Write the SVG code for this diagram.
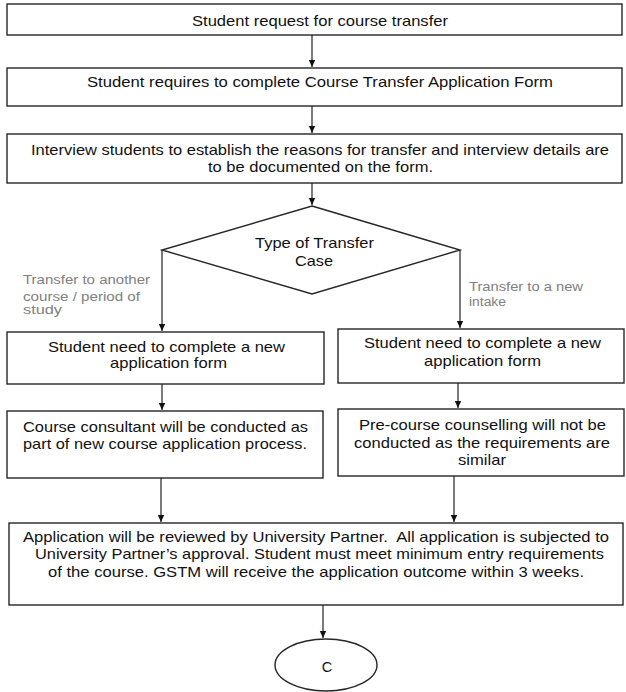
<svg xmlns="http://www.w3.org/2000/svg" width="626" height="692" viewBox="0 0 626 692">
<defs>
<marker id="ah" markerUnits="userSpaceOnUse" markerWidth="8" markerHeight="8" refX="7" refY="4" orient="auto">
<path d="M0,0.8 L7,4 L0,7.2 z" fill="#111"/>
</marker>
<style>
.box{fill:#fff;stroke:#262626;stroke-width:1.4}
.t{font-family:"Liberation Sans",Arial,sans-serif;font-size:14.5px;fill:#111;text-anchor:middle}
.lbl{font-family:"Liberation Sans",Arial,sans-serif;font-size:12px;fill:#808080}
.c{stroke:#333;stroke-width:1.3;fill:none;marker-end:url(#ah)}
</style>
</defs>
<rect width="626" height="692" fill="#fff"/>
<g id="connectors">
<line class="c" x1="312" y1="35" x2="312" y2="67"/>
<line class="c" x1="312" y1="106" x2="312" y2="133"/>
<line class="c" x1="312" y1="183" x2="312" y2="205"/>
<line class="c" x1="162" y1="250" x2="162" y2="331"/>
<line class="c" x1="460" y1="250" x2="460" y2="328"/>
<line class="c" x1="162" y1="384" x2="162" y2="410"/>
<line class="c" x1="458" y1="383" x2="458" y2="408"/>
<line class="c" x1="161" y1="478" x2="161" y2="522"/>
<line class="c" x1="454" y1="476" x2="454" y2="522"/>
<line class="c" x1="323" y1="605" x2="323" y2="638"/>
<text class="lbl" x="23" y="284" textLength="127" lengthAdjust="spacingAndGlyphs">Transfer to another</text>
<text class="lbl" x="23" y="301" textLength="117" lengthAdjust="spacingAndGlyphs">course / period of</text>
<text class="lbl" x="23" y="314" textLength="39" lengthAdjust="spacingAndGlyphs">study</text>
<text class="lbl" x="469" y="291" textLength="114" lengthAdjust="spacingAndGlyphs">Transfer to a new</text>
<text class="lbl" x="469" y="306" textLength="37" lengthAdjust="spacingAndGlyphs">intake</text>
</g>
<g id="n1">
<rect class="box" x="7" y="4" width="615" height="31"/>
<text class="t" x="320" y="26" textLength="256" lengthAdjust="spacingAndGlyphs">Student request for course transfer</text>
</g>
<g id="n2">
<rect class="box" x="7" y="68" width="615" height="38"/>
<text class="t" x="320" y="87" textLength="466" lengthAdjust="spacingAndGlyphs">Student requires to complete Course Transfer Application Form</text>
</g>
<g id="n3">
<rect class="box" x="7" y="134" width="615" height="49"/>
<text class="t" x="320" y="155" textLength="578" lengthAdjust="spacingAndGlyphs">Interview students to establish the reasons for transfer and interview details are</text>
<text class="t" x="320.5" y="172" textLength="225" lengthAdjust="spacingAndGlyphs">to be documented on the form.</text>
</g>
<g id="decision">
<polygon class="box" points="312,206 460,250 312,294 162,250"/>
<text class="t" x="314.5" y="248" textLength="119" lengthAdjust="spacingAndGlyphs">Type of Transfer</text>
<text class="t" x="314" y="266" textLength="38" lengthAdjust="spacingAndGlyphs">Case</text>
</g>
<g id="left1">
<rect class="box" x="7" y="332" width="317" height="52"/>
<text class="t" x="166.5" y="352" textLength="237" lengthAdjust="spacingAndGlyphs">Student need to complete a new</text>
<text class="t" x="168.5" y="368" textLength="117" lengthAdjust="spacingAndGlyphs">application form</text>
</g>
<g id="right1">
<rect class="box" x="338" y="329" width="286" height="54"/>
<text class="t" x="482.5" y="348" textLength="237" lengthAdjust="spacingAndGlyphs">Student need to complete a new</text>
<text class="t" x="482.5" y="366" textLength="117" lengthAdjust="spacingAndGlyphs">application form</text>
</g>
<g id="left2">
<rect class="box" x="7" y="411" width="316" height="67"/>
<text class="t" x="165.5" y="432" textLength="285" lengthAdjust="spacingAndGlyphs">Course consultant will be conducted as</text>
<text class="t" x="165" y="449" textLength="284" lengthAdjust="spacingAndGlyphs">part of new course application process.</text>
</g>
<g id="right2">
<rect class="box" x="338" y="409" width="286" height="67"/>
<text class="t" x="482.5" y="430" textLength="247" lengthAdjust="spacingAndGlyphs">Pre-course counselling will not be</text>
<text class="t" x="482" y="448" textLength="256" lengthAdjust="spacingAndGlyphs">conducted as the requirements are</text>
<text class="t" x="482" y="465" textLength="48" lengthAdjust="spacingAndGlyphs">similar</text>
</g>
<g id="review">
<rect class="box" x="9" y="523" width="614" height="82"/>
<text class="t" x="316" y="542" textLength="586" lengthAdjust="spacingAndGlyphs">Application will be reviewed by University Partner.&#160; All application is subjected to</text>
<text class="t" x="319.5" y="559" textLength="569" lengthAdjust="spacingAndGlyphs">University Partner’s approval. Student must meet minimum entry requirements</text>
<text class="t" x="316" y="577" textLength="536" lengthAdjust="spacingAndGlyphs">of the course. GSTM will receive the application outcome within 3 weeks.</text>
</g>
<g id="connectorC">
<ellipse class="box" cx="326" cy="665" rx="51" ry="26"/>
<text class="t" x="327" y="672">C</text>
</g>
</svg>
